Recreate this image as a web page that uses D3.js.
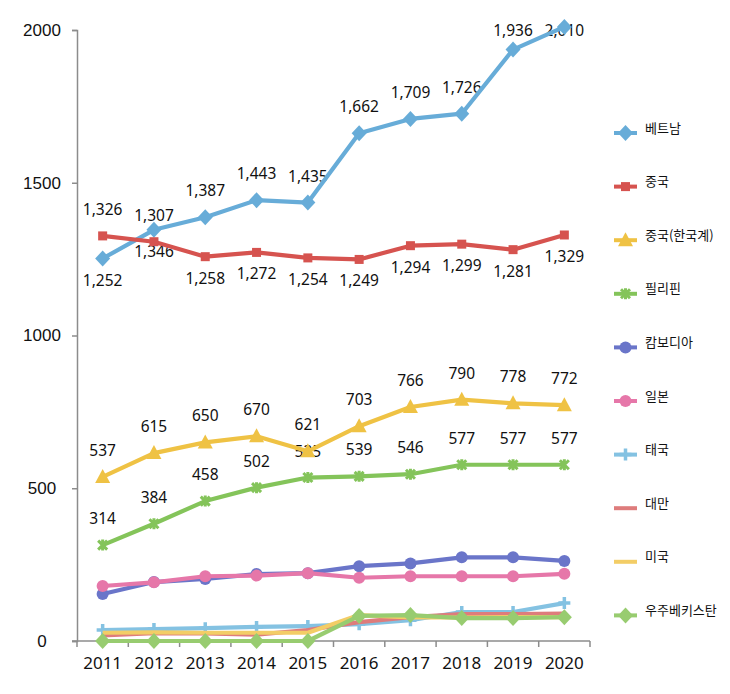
<!DOCTYPE html>
<html>
<head>
<meta charset="utf-8">
<script src="https://cdn.jsdelivr.net/npm/d3@7"></script>
<style>
  html, body { margin: 0; padding: 0; background: #fff; }
  svg { display: block; }
</style>
</head>
<body>
<svg id="chart" width="730" height="694"></svg>
<script>
// ---- data ----
const years = ["2011","2012","2013","2014","2015","2016","2017","2018","2019","2020"];
const seriesNames = ["베트남","중국","중국(한국계)","필리핀","캄보디아","일본","태국","대만","미국","우주베키스탄"];
const vietnam    = [1252, 1346, 1387, 1443, 1435, 1662, 1709, 1726, 1936, 2010];
const china      = [1326, 1307, 1258, 1272, 1254, 1249, 1294, 1299, 1281, 1329];
const chinaKor   = [537, 615, 650, 670, 621, 703, 766, 790, 778, 772];
const philippines= [314, 384, 458, 502, 535, 539, 546, 577, 577, 577];
const cambodia   = [154, 193, 203, 219, 222, 245, 254, 274, 274, 262];
const japan      = [180, 192, 212, 214, 222, 207, 212, 212, 212, 220];
const thailand   = [36, 39, 42, 46, 49, 55, 68, 95, 95, 124];
const taiwan     = [18, 26, 25, 21, 36, 62, 78, 88, 88, 90];
const usa        = [27, 28, 27, 27, 27, 85, 77, 77, 78, 78];
const uzbekistan = [0, 0, 0, 0, 0, 82, 85, 75, 75, 78];
const yTicks = [0, 500, 1000, 1500, 2000];

// ---- styles (not data) ----
const styles = [
  {color:"#67acd8", marker:"diamond", labels:["below","below","above","above","above","above","above","above","above","above"]},
  {color:"#d6534f", marker:"square",  labels:["above","above","below","below","below","below","below","below","below","below"]},
  {color:"#efc244", marker:"triangle",labels:"above"},
  {color:"#84c45a", marker:"star",    labels:"above"},
  {color:"#6a75c9", marker:"circle",  labels:null},
  {color:"#e677a9", marker:"circle",  labels:null},
  {color:"#84c2e2", marker:"plus",    labels:null},
  {color:"#de7c7c", marker:"none",    labels:null},
  {color:"#f3cd66", marker:"none",    labels:null},
  {color:"#98cc70", marker:"diamond", labels:null}
];
const allValues = [vietnam, china, chinaKor, philippines, cambodia, japan, thailand, taiwan, usa, uzbekistan];

const svg = d3.select("#chart");
const x = d3.scaleBand().domain(years).range([77, 590]);
const cx = d => x(d) + x.bandwidth() / 2;
const y = d3.scaleLinear().domain([0, 2000]).range([641, 30]);

// axes
const yAxis = d3.axisLeft(y).tickValues(yTicks).tickSize(5).tickPadding(0).tickFormat(d3.format("d"));
const gy = svg.append("g").attr("transform", "translate(77,0)").call(yAxis);
gy.select(".domain").attr("stroke", "#8c8c8c").attr("stroke-width", 1.5);
gy.selectAll(".tick line").attr("stroke", "#8c8c8c").attr("stroke-width", 1.5);
gy.selectAll(".tick text").attr("font-family", "Liberation Sans, Arial, sans-serif")
  .attr("font-size", 17).attr("fill", "#111").attr("text-anchor", "middle").attr("x", -35);

const gx = svg.append("g").attr("transform", "translate(0,641)");
gx.append("line").attr("x1", 72).attr("x2", 590).attr("y1", 0).attr("y2", 0)
  .attr("stroke", "#8c8c8c").attr("stroke-width", 1.5);
const bounds = years.map(d => x(d)).concat([x.range()[1]]);
gx.selectAll("line.tk").data(bounds).join("line").attr("class", "tk")
  .attr("x1", d => d).attr("x2", d => d).attr("y1", 0).attr("y2", 6)
  .attr("stroke", "#8c8c8c").attr("stroke-width", 1.5);
gx.selectAll("text").data(years).join("text")
  .attr("x", d => cx(d)).attr("y", 28).attr("text-anchor", "middle")
  .attr("font-family", "Noto Sans, sans-serif").attr("font-size", 17).attr("fill", "#111")
  .text(d => d);

// data labels (drawn beneath marks)
const fmt = d3.format(",");
const gl = svg.append("g");
allValues.forEach((vals, si) => {
  const st = styles[si];
  if (!st.labels) return;
  vals.forEach((v, i) => {
    const side = Array.isArray(st.labels) ? st.labels[i] : st.labels;
    let ly = y(v) + (side === "above" ? -27 : 21);
    if (ly < 30) ly = 30;
    gl.append("text").attr("x", cx(years[i])).attr("y", ly)
      .attr("text-anchor", "middle").attr("dominant-baseline", "central")
      .attr("font-family", "Noto Sans, sans-serif").attr("font-size", 15.5).attr("fill", "#111")
      .text(fmt(v));
  });
});

function drawMarker(g, type, color, px, py) {
  if (type === "diamond") {
    g.append("path").attr("d", `M${px},${py-8}L${px+7.5},${py}L${px},${py+8}L${px-7.5},${py}Z`).attr("fill", color);
  } else if (type === "square") {
    g.append("rect").attr("x", px-4.5).attr("y", py-4.5).attr("width", 9).attr("height", 9).attr("fill", color);
  } else if (type === "triangle") {
    g.append("path").attr("d", `M${px},${py-8}L${px+7.5},${py+6}L${px-7.5},${py+6}Z`).attr("fill", color);
  } else if (type === "star") {
    const s = 4.5;
    g.append("path").attr("d", `M${px-s},${py-s}L${px+s},${py+s}M${px-s},${py+s}L${px+s},${py-s}M${px},${py-s-1}L${px},${py+s+1}`)
      .attr("stroke", color).attr("stroke-width", 3).attr("fill", "none");
  } else if (type === "circle") {
    g.append("circle").attr("cx", px).attr("cy", py).attr("r", 6).attr("fill", color);
  } else if (type === "plus") {
    g.append("path").attr("d", `M${px-6},${py}L${px+6},${py}M${px},${py-6}L${px},${py+6}`)
      .attr("stroke", color).attr("stroke-width", 3.5).attr("fill", "none");
  }
}

// series lines and markers
const line = d3.line().x((d, i) => cx(years[i])).y(d => y(d));
allValues.forEach((vals, si) => {
  const st = styles[si];
  const g = svg.append("g");
  g.append("path").datum(vals).attr("d", line).attr("fill", "none")
    .attr("stroke", st.color).attr("stroke-width", 4.2).attr("stroke-linejoin", "round");
  vals.forEach((v, i) => drawMarker(g, st.marker, st.color, cx(years[i]), y(v)));
});

// legend
const lg = svg.append("g");
seriesNames.forEach((name, i) => {
  const ly = 133 + i * 53.6;
  const st = styles[i];
  lg.append("line").attr("x1", 614).attr("x2", 637).attr("y1", ly).attr("y2", ly)
    .attr("stroke", st.color).attr("stroke-width", 4);
  drawMarker(lg, st.marker, st.color, 625.5, ly);
  lg.append("text").attr("x", 645).attr("y", ly - 6).attr("dominant-baseline", "central")
    .attr("font-family", "Noto Sans CJK KR, sans-serif").attr("font-size", 13).attr("fill", "#111")
    .text(name);
});
</script>
</body>
</html>
